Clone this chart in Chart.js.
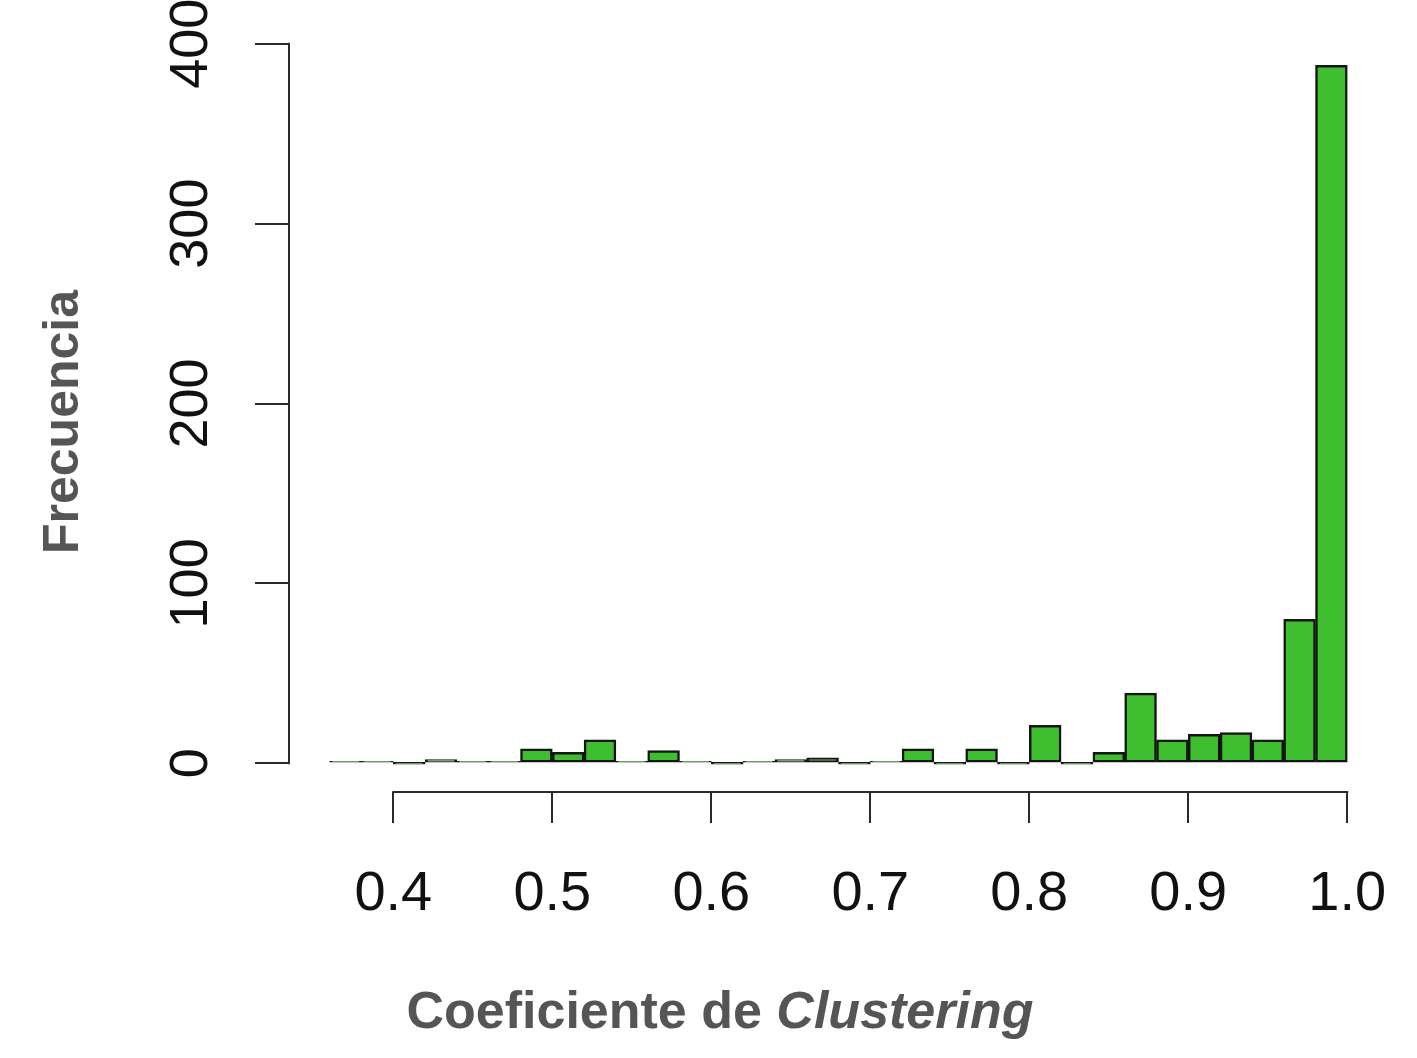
<!DOCTYPE html>
<html>
<head>
<meta charset="utf-8">
<script src="https://cdn.jsdelivr.net/npm/chart.js@4/dist/chart.umd.min.js"></script>
<style>
  html, body { margin: 0; padding: 0; background: #ffffff; }
  #wrap { width: 1417px; height: 1058px; }
</style>
</head>
<body>
<div id="wrap"><canvas id="c" width="1417" height="1058"></canvas></div>
<script>
// ---- data ----
const binStarts = [0.36, 0.38, 0.40, 0.42, 0.44, 0.46, 0.48, 0.50, 0.52, 0.54, 0.56, 0.58, 0.60, 0.62, 0.64, 0.66,
                   0.68, 0.70, 0.72, 0.74, 0.76, 0.78, 0.80, 0.82, 0.84, 0.86, 0.88, 0.90, 0.92, 0.94, 0.96, 0.98];
const binWidth = 0.02;
const counts = [1, 1, 0, 2, 1, 1, 8, 6, 13, 1, 7, 1, 0, 1, 2, 3,
                0, 1, 8, 0, 8, 0, 21, 0, 6, 39, 13, 16, 17, 13, 80, 388];
const xTicks = [0.4, 0.5, 0.6, 0.7, 0.8, 0.9, 1.0];
const xTickLabels = ['0.4', '0.5', '0.6', '0.7', '0.8', '0.9', '1.0'];
const yTicks = [0, 100, 200, 300, 400];
const yTickLabels = ['0', '100', '200', '300', '400'];
const xTitleA = 'Coeficiente de ';
const xTitleB = 'Clustering';
const yTitle = 'Frecuencia';

const FONT = '"Liberation Sans", Arial, Helvetica, sans-serif';
const AXIS_COLOR = '#2a2a2a';

const points = binStarts.map((s, i) => ({ x: s + binWidth / 2, y: counts[i] }));

const rAxes = {
  id: 'rAxes',
  afterDraw(chart) {
    const ctx = chart.ctx;
    const xs = chart.scales.x, ys = chart.scales.y;
    const area = chart.chartArea;
    ctx.save();
    ctx.strokeStyle = AXIS_COLOR;
    ctx.lineWidth = 2;
    ctx.beginPath();
    ctx.moveTo(xs.getPixelForValue(xTicks[0]) - 1, area.bottom);
    ctx.lineTo(xs.getPixelForValue(xTicks[xTicks.length - 1]) + 1, area.bottom);
    ctx.moveTo(area.left, ys.getPixelForValue(yTicks[0]) + 1);
    ctx.lineTo(area.left, ys.getPixelForValue(yTicks[yTicks.length - 1]) - 1);
    ctx.stroke();

    // axis titles
    ctx.fillStyle = '#555555';
    ctx.textBaseline = 'alphabetic';
    const fA = 'bold 52px ' + FONT;
    const fB = 'italic bold 52px ' + FONT;
    ctx.font = fA; const wA = ctx.measureText(xTitleA).width;
    ctx.font = fB; const wB = ctx.measureText(xTitleB).width;
    const cx = 720, base = 1028;
    let x0 = cx - (wA + wB) / 2;
    ctx.textAlign = 'left';
    ctx.font = fA; ctx.fillText(xTitleA, x0, base);
    ctx.font = fB; ctx.fillText(xTitleB, x0 + wA, base);

    ctx.translate(78, 422);
    ctx.rotate(-Math.PI / 2);
    ctx.textAlign = 'center';
    ctx.font = 'bold 50px ' + FONT;
    ctx.fillText(yTitle, 0, 0);
    ctx.restore();
  }
};

function noPad(s) {
  s.paddingTop = 0; s.paddingBottom = 0; s.paddingLeft = 0; s.paddingRight = 0;
}

new Chart(document.getElementById('c'), {
  type: 'bar',
  data: {
    datasets: [{
      data: points,
      backgroundColor: '#3fbf30',
      borderColor: '#151515',
      borderWidth: 2.5,
      borderSkipped: false,
      barPercentage: 1.0,
      categoryPercentage: 1.0,
      minBarLength: 2
    }]
  },
  options: {
    responsive: false,
    devicePixelRatio: 1,
    animation: false,
    layout: { padding: { top: 15, right: 29, left: 0, bottom: 0 } },
    plugins: { legend: { display: false }, tooltip: { enabled: false } },
    scales: {
      x: {
        type: 'linear',
        position: 'bottom',
        min: 0.3344,
        max: 1.0256,
        offset: false,
        afterFit: s => { s.height = 266; noPad(s); },
        afterBuildTicks: s => { s.ticks = xTicks.map(v => ({ value: v })); },
        border: { display: false },
        grid: { display: true, drawOnChartArea: false, drawTicks: true, tickLength: 31, color: AXIS_COLOR, lineWidth: 2, tickWidth: 2, offset: false },
        ticks: {
          font: { family: FONT, size: 56 },
          color: '#111111',
          padding: 38,
          maxRotation: 0, minRotation: 0,
          autoSkip: false,
          callback: (v, i) => xTickLabels[i]
        }
      },
      y: {
        position: 'left',
        min: -16,
        max: 416,
        afterFit: s => { s.width = 289; noPad(s); },
        afterBuildTicks: s => { s.ticks = yTicks.map(v => ({ value: v })); },
        border: { display: false },
        grid: { display: true, drawOnChartArea: false, drawTicks: true, tickLength: 34, color: AXIS_COLOR, lineWidth: 2, tickWidth: 2 },
        ticks: {
          font: { family: FONT, size: 54 },
          color: '#111111',
          padding: 18,
          minRotation: 90, maxRotation: 90,
          crossAlign: 'center',
          autoSkip: false,
          callback: (v, i) => yTickLabels[i]
        }
      }
    }
  },
  plugins: [rAxes]
});
</script>
</body>
</html>
